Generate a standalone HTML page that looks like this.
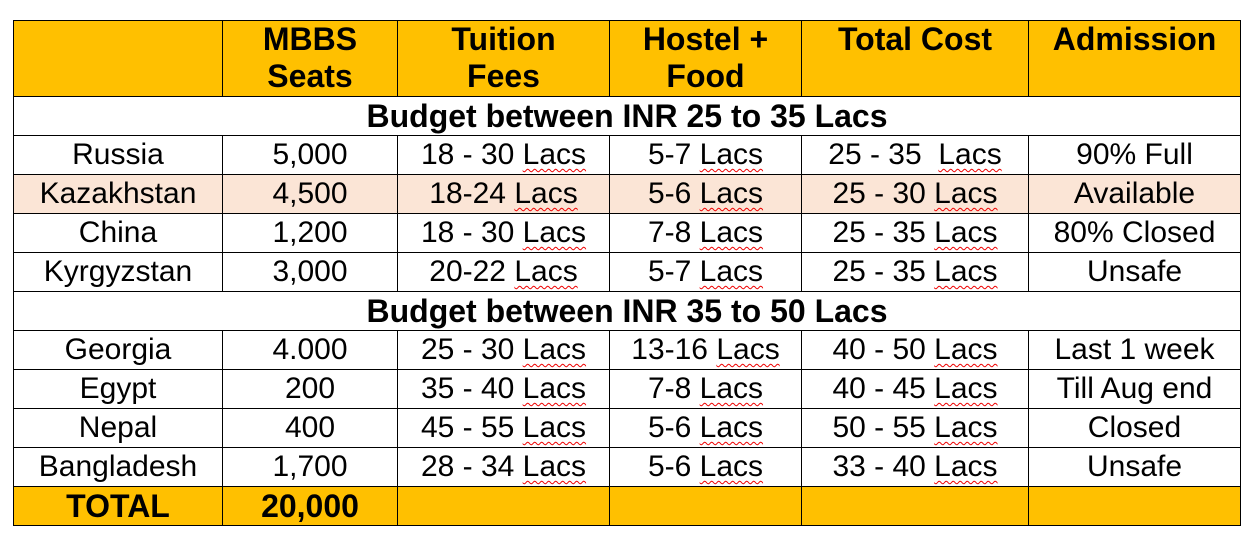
<!DOCTYPE html>
<html><head><style>
body{margin:0;background:#fff;width:1253px;height:551px;overflow:hidden}
table{position:absolute;left:13px;top:20px;border-collapse:collapse;table-layout:fixed;font-family:"Liberation Sans",Arial,sans-serif;font-size:30px;color:#000}
td{border:1px solid #000;text-align:center;padding:0;height:38px;line-height:34px;white-space:nowrap;overflow:hidden}
tr.h td{background:#FFC000;font-weight:bold;font-size:32px;height:75px;line-height:37px;vertical-align:top;padding-top:0}
tr.b td{font-weight:bold;font-size:32px}
tr.k td{background:#FBE5D6}
tr.t td{background:#FFC000;font-weight:bold;font-size:32px}
u{text-decoration:underline wavy #e00;text-decoration-thickness:1px;text-underline-offset:4px}
</style></head><body>
<table>
<colgroup><col style="width:209px"><col style="width:175px"><col style="width:212px"><col style="width:192px"><col style="width:227px"><col style="width:212px"></colgroup>
<tr class="h"><td></td><td>MBBS<br>Seats</td><td>Tuition<br>Fees</td><td>Hostel +<br>Food</td><td>Total Cost</td><td>Admission</td></tr>
<tr class="b"><td colspan="6">Budget between INR 25 to 35 Lacs</td></tr>
<tr><td>Russia</td><td>5,000</td><td>18 - 30 <u>Lacs</u></td><td>5-7 <u>Lacs</u></td><td>25 - 35&nbsp; <u>Lacs</u></td><td>90% Full</td></tr>
<tr class="k"><td>Kazakhstan</td><td>4,500</td><td>18-24 <u>Lacs</u></td><td>5-6 <u>Lacs</u></td><td>25 - 30 <u>Lacs</u></td><td>Available</td></tr>
<tr><td>China</td><td>1,200</td><td>18 - 30 <u>Lacs</u></td><td>7-8 <u>Lacs</u></td><td>25 - 35 <u>Lacs</u></td><td>80% Closed</td></tr>
<tr><td>Kyrgyzstan</td><td>3,000</td><td>20-22 <u>Lacs</u></td><td>5-7 <u>Lacs</u></td><td>25 - 35 <u>Lacs</u></td><td>Unsafe</td></tr>
<tr class="b"><td colspan="6">Budget between INR 35 to 50 Lacs</td></tr>
<tr><td>Georgia</td><td>4.000</td><td>25 - 30 <u>Lacs</u></td><td>13-16 <u>Lacs</u></td><td>40 - 50 <u>Lacs</u></td><td>Last 1 week</td></tr>
<tr><td>Egypt</td><td>200</td><td>35 - 40 <u>Lacs</u></td><td>7-8 <u>Lacs</u></td><td>40 - 45 <u>Lacs</u></td><td>Till Aug end</td></tr>
<tr><td>Nepal</td><td>400</td><td>45 - 55 <u>Lacs</u></td><td>5-6 <u>Lacs</u></td><td>50 - 55 <u>Lacs</u></td><td>Closed</td></tr>
<tr><td>Bangladesh</td><td>1,700</td><td>28 - 34 <u>Lacs</u></td><td>5-6 <u>Lacs</u></td><td>33 - 40 <u>Lacs</u></td><td>Unsafe</td></tr>
<tr class="t"><td>TOTAL</td><td>20,000</td><td></td><td></td><td></td><td></td></tr>
</table>
</body></html>
